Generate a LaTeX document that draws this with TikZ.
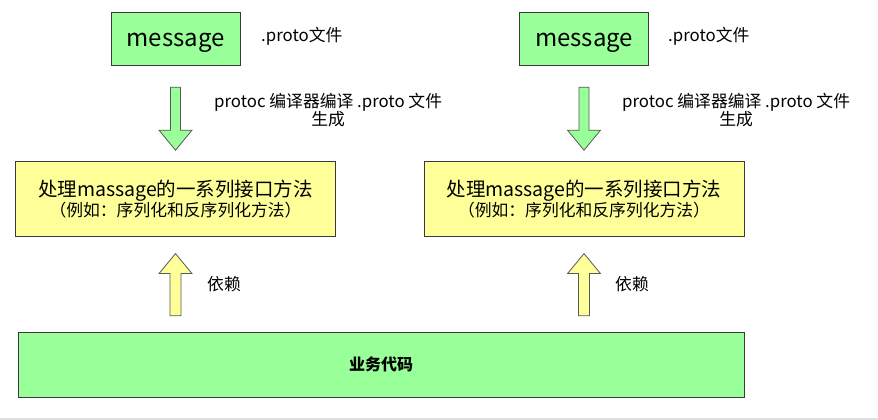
\documentclass[tikz,border=0pt]{standalone}
\usepackage{fontspec}
\setmainfont{Noto Sans CJK SC}
\usetikzlibrary{calc,positioning}
\definecolor{pb-green}{HTML}{99FF99}
\definecolor{pb-yellow}{HTML}{FFFF99}
\definecolor{pb-line}{HTML}{3A3A3A}

\begin{document}
\begin{tikzpicture}[
    x=1pt, y=1pt,
    font=\fontsize{16.8}{19}\selectfont,
    >=latex
  ]

  % Styles for boxes and the fat arrows
  \tikzset{
    msgbox/.style={draw=pb-line, fill=pb-green, minimum width=129pt, minimum height=53pt, inner sep=0pt, text height=17pt, text depth=0pt, font=\fontsize{24}{28}\selectfont},
    apibox/.style={draw=pb-line, fill=pb-yellow, minimum width=320pt, minimum height=75pt, inner sep=0pt, align=center},
    codebox/.style={draw=pb-line, fill=pb-green, minimum width=726pt, minimum height=65pt, inner sep=0pt, font=\fontsize{16}{19}\selectfont\bfseries},
    note/.style={inner sep=0pt, align=center},
    fatarrow/.style={draw=pb-line!85, line width=0.8pt, line join=miter}
  }

  \useasboundingbox (0,0) rectangle (878,420);
  \fill[black!12] (0,0) rectangle (878,2);

  % Two columns: message -> generated methods
  \node (message1) [msgbox] at (175.5,381.5) {message};
  \node (message2) [msgbox] at (584,381.5) {message};
  \node (proto1) [note, anchor=west] at ($(message1)+(85.5,2.5)$) {.proto文件};
  \node (proto2) [note, anchor=west] at ($(message2)+(84,2.5)$) {.proto文件};

  \node (methods1) [apibox, below=96pt of message1] {{\fontsize{19.5}{24}\selectfont 处理massage的一系列接口方法}\\[0pt]（例如：序列化和反序列化方法）};
  \node (methods2) [apibox, below=96pt of message2] {{\fontsize{19.5}{24}\selectfont 处理massage的一系列接口方法}\\[0pt]（例如：序列化和反序列化方法）};

  % Business code at the bottom
  \node (business) [codebox] at (381,55.5) {业务代码};

  % Fat arrows: protoc generates, business code depends
  \coordinate (down1) at ($(message1.south)+(0,-22)$);
  \coordinate (down2) at ($(message2.south)+(0,-22)$);
  \coordinate (up1) at ($(message1 |- business.north)+(0,16)$);
  \coordinate (up2) at ($(message2 |- business.north)+(0,16)$);

  \draw[fatarrow, fill=pb-green] let \p1=(down1), \p2=(methods1.north) in
      (\x1-5,\y1) -- (\x1-5,\y2+31) -- (\x1-16.5,\y2+31) -- (\x1,\y2+11)
      -- (\x1+16.5,\y2+31) -- (\x1+5,\y2+31) -- (\x1+5,\y1) -- cycle;
  \draw[fatarrow, fill=pb-green] let \p1=(down2), \p2=(methods2.north) in
      (\x1-5,\y1) -- (\x1-5,\y2+31) -- (\x1-16.5,\y2+31) -- (\x1,\y2+11)
      -- (\x1+16.5,\y2+31) -- (\x1+5,\y2+31) -- (\x1+5,\y1) -- cycle;
  \draw[fatarrow, fill=pb-yellow] let \p1=(up1), \p2=(methods1.south) in
      (\x1-5.5,\y1) -- (\x1-5.5,\y2-37) -- (\x1-16.5,\y2-37) -- (\x1,\y2-17)
      -- (\x1+16.5,\y2-37) -- (\x1+5.5,\y2-37) -- (\x1+5.5,\y1) -- cycle;
  \draw[fatarrow, fill=pb-yellow] let \p1=(up2), \p2=(methods2.south) in
      (\x1-5.5,\y1) -- (\x1-5.5,\y2-37) -- (\x1-16.5,\y2-37) -- (\x1,\y2-17)
      -- (\x1+16.5,\y2-37) -- (\x1+5.5,\y2-37) -- (\x1+5.5,\y1) -- cycle;

  % Arrow labels
  \node (gen1) [note, anchor=west] at ($(down1)+(38.5,-23)$) {protoc 编译器编译 .proto 文件\\[-1pt]生成};
  \node (gen2) [note, anchor=west] at ($(down2)+(38,-23)$) {protoc 编译器编译 .proto 文件\\[-1pt]生成};
  \node (dep1) [note, anchor=west] at ($(up1)+(31.5,32)$) {依赖};
  \node (dep2) [note, anchor=west] at ($(up2)+(31,32)$) {依赖};

\end{tikzpicture}
\end{document}
